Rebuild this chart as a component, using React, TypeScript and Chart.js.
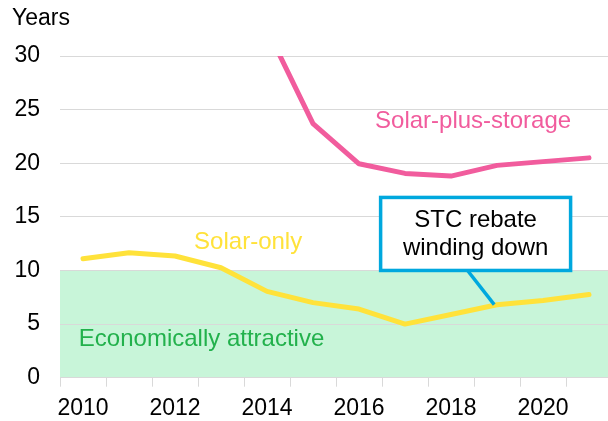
import { useEffect, useRef } from 'react';
import { Chart, registerables } from 'chart.js';

Chart.register(...registerables);

const years = ['2010', '2011', '2012', '2013', '2014', '2015', '2016', '2017', '2018', '2019', '2020', '2021'];
const solarOnly = [11.1, 11.65, 11.35, 10.25, 8.05, 7.0, 6.4, 5.0, 5.9, 6.8, 7.2, 7.75];
const solarPlusStorage = [null, null, null, null, 32.5, 23.7, 19.95, 19.05, 18.8, 19.8, 20.15, 20.5];
const yTicks = [0, 5, 10, 15, 20, 25, 30];
const attractiveThreshold = 10;
const yAxisTitle = 'Years';
const seriesNames = ['Solar-only', 'Solar-plus-storage'];
const zoneLabel = 'Economically attractive';
const calloutLines = ['STC rebate', 'winding down'];

const FONT = '"Liberation Sans", Arial, sans-serif';
const PINK = '#F15C9D';
const YELLOW = '#FFE23A';
const GREEN_FILL = '#C8F5D9';
const GREEN_TEXT = '#22B14C';
const BLUE = '#00A8DE';
const GRID = '#D9D9D9';

const annotationPlugin = {
  id: 'annotations',
  beforeDraw(chart: any) {
    const { ctx, chartArea, scales } = chart;
    const y = scales.y;
    const top = y.getPixelForValue(attractiveThreshold);
    const bottom = y.getPixelForValue(0);
    ctx.save();
    ctx.fillStyle = GREEN_FILL;
    ctx.fillRect(chartArea.left, top, chartArea.right - chartArea.left, bottom - top);
    ctx.restore();
  },
  afterDraw(chart: any) {
    const { ctx, scales } = chart;
    const x = scales.x;
    const y = scales.y;
    ctx.save();
    // axis title
    ctx.font = `23px ${FONT}`;
    ctx.fillStyle = '#000';
    ctx.textAlign = 'left';
    ctx.textBaseline = 'alphabetic';
    ctx.fillText(yAxisTitle, 12, 25);

    ctx.font = `24px ${FONT}`;
    ctx.textBaseline = 'middle';
    // series labels
    ctx.textAlign = 'center';
    ctx.fillStyle = PINK;
    ctx.fillText(seriesNames[1], x.getPixelForValue(8.48), y.getPixelForValue(23.87));
    ctx.fillStyle = YELLOW;
    ctx.fillText(seriesNames[0], x.getPixelForValue(3.59), y.getPixelForValue(12.62));
    ctx.textAlign = 'left';
    ctx.fillStyle = GREEN_TEXT;
    ctx.fillText(zoneLabel, x.getPixelForValue(-0.09), y.getPixelForValue(3.54));

    // callout leader
    ctx.strokeStyle = BLUE;
    ctx.lineWidth = 3.5;
    ctx.beginPath();
    ctx.moveTo(x.getPixelForValue(8.36), y.getPixelForValue(10));
    ctx.lineTo(x.getPixelForValue(8.94), y.getPixelForValue(6.81));
    ctx.stroke();

    // callout box
    const bl = x.getPixelForValue(6.47);
    const br = x.getPixelForValue(10.6);
    const bt = y.getPixelForValue(16.81);
    const bb = y.getPixelForValue(10.0);
    ctx.fillStyle = '#fff';
    ctx.fillRect(bl, bt, br - bl, bb - bt);
    ctx.lineWidth = 3.5;
    ctx.strokeRect(bl, bt, br - bl, bb - bt);
    ctx.fillStyle = '#000';
    ctx.textAlign = 'center';
    const cx = (bl + br) / 2;
    const cy = (bt + bb) / 2;
    ctx.fillText(calloutLines[0], cx, cy - 14);
    ctx.fillText(calloutLines[1], cx, cy + 14);
    ctx.restore();
  },
};

export default function App() {
  const ref = useRef<HTMLCanvasElement>(null);
  useEffect(() => {
    const canvas = ref.current;
    if (!canvas) return;
    const chart = new Chart(canvas, {
      type: 'line',
      data: {
        labels: years,
        datasets: [
          {
            label: seriesNames[0],
            data: solarOnly,
            borderColor: YELLOW,
            borderWidth: 5,
            pointRadius: 0,
            tension: 0,
            borderCapStyle: 'round',
            borderJoinStyle: 'round',
            clip: { top: 0, left: 10, right: 10, bottom: 10 },
          },
          {
            label: seriesNames[1],
            data: solarPlusStorage,
            borderColor: PINK,
            borderWidth: 5,
            pointRadius: 0,
            tension: 0,
            borderCapStyle: 'round',
            borderJoinStyle: 'round',
            clip: { top: 0, left: 10, right: 10, bottom: 10 },
          },
        ],
      },
      options: {
        responsive: false,
        animation: false,
        devicePixelRatio: 1,
        layout: { padding: { top: 56, right: 0, left: 0, bottom: 0 } },
        plugins: { legend: { display: false }, tooltip: { enabled: false } },
        scales: {
          x: {
            type: 'category',
            offset: true,
            grid: { offset: true, drawOnChartArea: false, drawTicks: true, tickLength: 9, color: GRID },
            border: { display: true, color: GRID, width: 1 },
            ticks: {
              autoSkip: false,
              maxRotation: 0,
              padding: 8,
              color: '#000',
              font: { family: FONT, size: 23 },
              callback: (_v: any, i: number) => (Number(years[i]) % 2 === 0 ? years[i] : ''),
            },
            afterFit: (s: any) => {
              s.height = 43.3;
            },
          },
          y: {
            min: 0,
            max: 30,
            afterBuildTicks: (s: any) => {
              s.ticks = yTicks.map((v) => ({ value: v }));
            },
            grid: { drawTicks: false, color: GRID, lineWidth: 1 },
            border: { display: false },
            ticks: {
              padding: 20,
              color: '#000',
              font: { family: FONT, size: 23 },
            },
            afterFit: (s: any) => {
              s.width = 60;
            },
          },
        },
      },
      plugins: [annotationPlugin],
    } as any);
    return () => chart.destroy();
  }, []);
  return (
    <div style={{ position: 'fixed', left: 0, top: 0, width: 608, height: 421, overflow: 'hidden', background: '#fff' }}>
      <canvas ref={ref} width={612} height={421} style={{ display: 'block' }} />
    </div>
  );
}
